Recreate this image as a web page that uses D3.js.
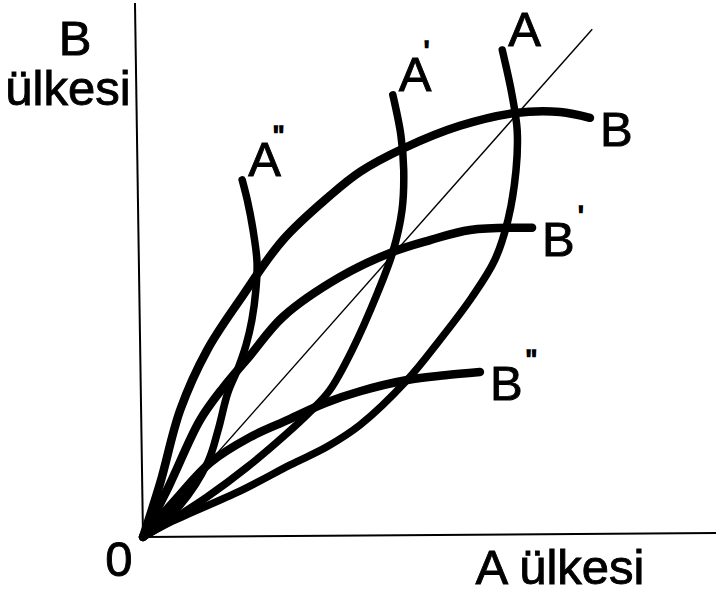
<!DOCTYPE html>
<meta charset="utf-8">
<style>
body { margin:0; background:#fff; }
text { font-family:"Liberation Sans", Arial, sans-serif; font-size:49px; fill:#000; stroke:#000; stroke-width:0.9px; }
.prime { font-size:30px; stroke-width:1.6px; }
.curve { fill:none; stroke:#000; stroke-width:8px; stroke-linecap:round; stroke-linejoin:round; }
.axis { fill:none; stroke:#000; stroke-width:2px; }
.diag { fill:none; stroke:#000; stroke-width:1.4px; }
</style>
<body>
<script src="https://d3js.org/d3.v7.min.js"></script>
<script>

// offer curves, in units of the two countries' goods (0-10 on both axes)
var curveNames = ["A''", "A'", "A", "B", "B'", "B''"];

var curveA2 = [[0,0],[0.65,0.60],[1.13,1.40],[1.31,2.00],[1.48,2.70],[1.66,3.16],[1.80,3.60],
  [1.90,4.06],[1.97,4.63],[1.99,5.15],[1.92,5.75],[1.82,6.31],[1.73,6.69]];
var curveA1 = [[0,0],[0.56,0.36],[1.12,0.75],[1.82,1.31],[2.48,1.91],[2.91,2.34],[3.26,2.75],
  [3.65,3.50],[4.10,4.59],[4.36,5.34],[4.52,6.12],[4.55,6.87],[4.50,7.53],[4.36,8.28]];
var curveA0 = [[0,0],[0.52,0.30],[1.69,0.86],[2.57,1.35],[3.21,1.69],[3.79,2.10],[4.61,2.94],
  [5.18,3.69],[5.74,4.49],[6.14,5.19],[6.37,5.94],[6.51,6.87],[6.53,7.62],[6.44,8.28],[6.27,9.12]];
var curveB0 = [[0,0],[0.30,1.01],[0.65,2.38],[1.12,3.50],[1.69,4.44],[2.44,5.56],[3.26,6.39],
  [3.79,6.84],[4.55,7.28],[5.53,7.70],[6.49,7.94],[7.28,7.96],[7.80,7.85]];
var curveB1 = [[0,0],[0.45,0.95],[0.99,2.18],[1.40,2.80],[1.87,3.40],[2.44,4.12],[3.44,4.87],
  [4.36,5.34],[5.01,5.56],[5.71,5.75],[6.79,5.79]];
var curveB2 = [[0,0],[0.56,0.69],[1.17,1.39],[1.87,1.87],[2.48,2.17],[3.18,2.51],[3.79,2.73],
  [4.61,2.94],[5.27,3.03],[5.88,3.09]];

var diagonal = [[0,0],[7.84,9.51]];
var xAxisLine = [[0,0],[10,0.075]];
var yAxisLine = [[0,0],[-0.14,10]];

var curves = [curveA2, curveA1, curveA0, curveB0, curveB1, curveB2];

var W = 716, H = 592;
var svg = d3.select("body").append("svg").attr("width", W).attr("height", H);

var x = d3.scaleLinear().domain([0,10]).range([143,716]);
var y = d3.scaleLinear().domain([0,10]).range([537,3]);

var line = d3.line().x(d=>x(d[0])).y(d=>y(d[1]));
var smooth = d3.line().x(d=>x(d[0])).y(d=>y(d[1])).curve(d3.curveCatmullRom.alpha(0.5));

svg.append("path").attr("class","axis").attr("d", line(yAxisLine));
svg.append("path").attr("class","axis").attr("d", line(xAxisLine));
svg.append("path").attr("class","diag").attr("d", line(diagonal));

svg.selectAll(".curve").data(curves).enter().append("path")
	.attr("class","curve")
	.style("stroke-width", (d,i)=> i<3 ? "7.5px" : "8.5px")
	.attr("d", smooth);

// curve labels, placed off the free end of each curve
curveNames.forEach(function(name, i){
	var end = curves[i][curves[i].length-1];
	var isA = name[0]=="A";
	var px = x(end[0]) + (isA ? 6 : 10);
	var py = y(end[1]) + (isA ? -4 : 28);
	var primes = name.slice(1).replace("''", '"');
	var t = svg.append("text").attr("x", px).attr("y", py).text(name[0]);
	if(primes.length){
		t.append("tspan").attr("class","prime")
			.attr("x", px + (isA ? 25 : 36))
			.attr("y", py - 30)
			.text(primes);
	}
});

svg.append("text").attr("x",75).attr("y",55).attr("text-anchor","middle").text("B");
svg.append("text").attr("x",68).attr("y",105).attr("text-anchor","middle").text("ülkesi");
svg.append("text").attr("x",119).attr("y",576).attr("text-anchor","middle").text("0");
svg.append("text").attr("x",560).attr("y",584).attr("text-anchor","middle").text("A ülkesi");

</script>
</body>
